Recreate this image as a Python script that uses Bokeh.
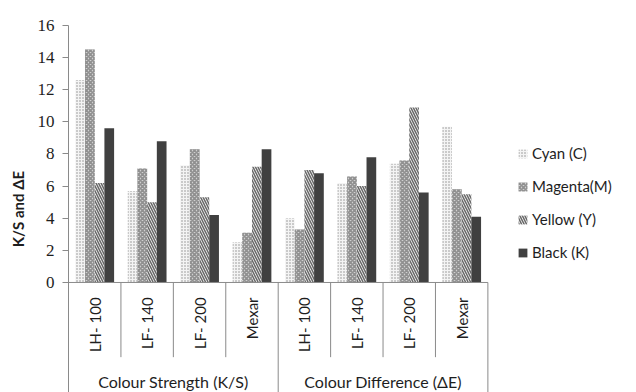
import numpy as np
from bokeh.plotting import figure
from bokeh.models import ColumnDataSource, FixedTicker, Range1d, Legend, LegendItem
from bokeh.core.properties import value
from bokeh.embed import file_html
from bokeh.resources import INLINE

# Ink samples measured on each paper type
samples = ["LH- 100", "LF- 140", "LF- 200", "Mexar"]
groups = ["Colour Strength (K/S)", "Colour Difference (ΔE)"]
series = ["Cyan (C)", "Magenta(M)", "Yellow (Y)", "Black (K)"]

cyan = [12.6, 5.7, 7.3, 2.5, 4.0, 6.2, 7.4, 9.7]
magenta = [14.5, 7.1, 8.3, 3.1, 3.3, 6.6, 7.6, 5.8]
yellow = [6.2, 5.0, 5.3, 7.2, 7.0, 6.0, 10.9, 5.5]
black = [9.6, 8.8, 4.2, 8.3, 6.8, 7.8, 5.6, 4.1]

y_ticks = [0, 2, 4, 6, 8, 10, 12, 14, 16]

FONT = "Lato"
NUM_FONT = "Liberation Serif"
GRID_GREY = "#8a8a8a"
TEXT = "#1e1e1e"

n_cat = len(samples) * len(groups)
centers = np.arange(n_cat) + 0.5
bar_w = 0.185
offsets = [-1.5 * bar_w, -0.5 * bar_w, 0.5 * bar_w, 1.5 * bar_w]

y_bottom = -6.85  # room under the axis for the category table
p = figure(
    frame_width=422, frame_height=367,
    min_border_left=68, min_border_right=0, min_border_top=25, min_border_bottom=0,
    x_range=Range1d(0, 8.05), y_range=Range1d(y_bottom, 16),
    x_axis_type=None, toolbar_location=None, output_backend="svg",
)
p.outline_line_color = None
p.ygrid.visible = False
p.background_fill_color = "white"
p.border_fill_color = "white"

styles = [
    dict(fill_color="#f4f4f4", hatch_pattern="dot", hatch_color="#8c8c8c", hatch_scale=3, hatch_weight=1),
    dict(fill_color="#d4d4d4", hatch_pattern="diagonal_cross", hatch_color="#909090", hatch_scale=4, hatch_weight=1.8),
    dict(fill_color="white", hatch_pattern="left_diagonal_line", hatch_color="#6a6a6a", hatch_scale=5, hatch_weight=1.6),
    dict(fill_color="#404040"),
]

items = []
for vals, name, off, st in zip([cyan, magenta, yellow, black], series, offsets, styles):
    src = ColumnDataSource(dict(x=centers + off, top=vals))
    r = p.vbar(x="x", top="top", bottom=0, width=bar_w, source=src, line_color=None, **st)
    items.append(LegendItem(label=name, renderers=[r]))

# y axis
ax = p.yaxis[0]
ax.ticker = FixedTicker(ticks=y_ticks)
ax.bounds = (y_bottom, 16)
ax.axis_line_color = GRID_GREY
ax.major_tick_line_color = GRID_GREY
ax.major_tick_out = 6
ax.major_tick_in = 0
ax.minor_tick_line_color = None
ax.major_label_text_font = NUM_FONT
ax.major_label_text_font_size = "17px"
ax.major_label_text_color = TEXT
ax.major_label_standoff = 8
ax.axis_label = "K/S and ΔE"
ax.axis_label_text_font = FONT
ax.axis_label_text_font_size = "15px"
ax.axis_label_text_font_style = "bold"
ax.axis_label_text_color = TEXT
ax.axis_label_standoff = 8

# category table under the axis
sep_short = -4.65
p.segment(x0=[0], y0=[0], x1=[8], y1=[0], line_color=GRID_GREY, line_width=1)
inner = [1, 2, 3, 5, 6, 7]
p.segment(x0=inner, y0=[0] * len(inner), x1=inner, y1=[sep_short] * len(inner),
          line_color=GRID_GREY, line_width=1)
outer = [4, 8]
p.segment(x0=outer, y0=[0, 0], x1=outer, y1=[y_bottom, y_bottom], line_color=GRID_GREY, line_width=1)

labels = samples * len(groups)
p.text(x=list(centers), y=[-0.93] * n_cat, text=labels, angle=np.pi / 2,
       text_align="right", text_baseline="middle", text_font=value(FONT),
       text_font_size="15px", text_color=TEXT)
p.text(x=[2, 6], y=[-6.18, -6.18], text=groups, text_align="center", text_baseline="middle",
       text_font=value(FONT), text_font_size="16px", text_color=TEXT)

leg = Legend(items=items, location=(27, 131))
leg.border_line_color = None
leg.background_fill_alpha = 0
leg.label_text_font = FONT
leg.label_text_font_size = "15px"
leg.label_text_color = TEXT
leg.glyph_width = 11
leg.glyph_height = 11
leg.label_height = 11
leg.label_standoff = 4
leg.spacing = 15
leg.padding = 0
leg.margin = 0
p.add_layout(leg, "right")

open("out.html", "w").write(file_html(p, INLINE))
